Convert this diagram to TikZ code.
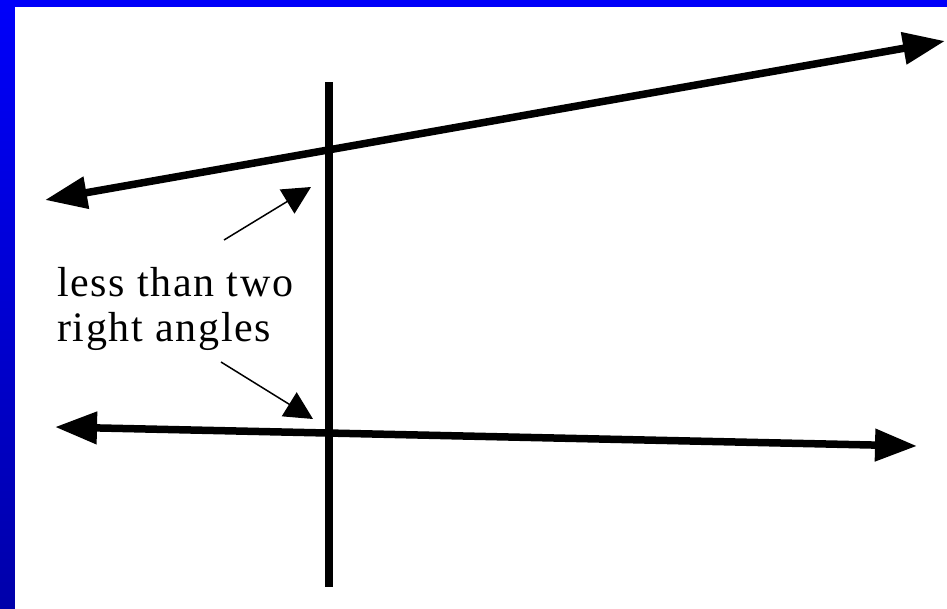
\documentclass[tikz,border=0pt]{standalone}
\usepackage{fontspec}
\setmainfont{Liberation Serif}
\usetikzlibrary{arrows.meta}
\begin{document}
\begin{tikzpicture}[x=1pt,y=-1pt,
  bigline/.style={line width=7.5pt,{Triangle[length=42pt,width=31pt]}-{Triangle[length=42pt,width=31pt]}},
  pointer/.style={line width=1.5pt,-{Triangle[length=28pt,width=28pt]}},
  label/.style={font=\fontsize{42}{45}\selectfont\addfontfeature{LetterSpace=4},align=left,inner sep=0pt,anchor=north west}]
\useasboundingbox (0,0) rectangle (947,608);
\shade[top color={rgb,255:red,0;green,0;blue,250},bottom color={rgb,255:red,0;green,0;blue,170}] (0,0) rectangle (947,608);
\fill[white] (15,7) rectangle (952,615);
% coordinates
\coordinate (vt) at (329,82);
\coordinate (vb) at (329,587);
\coordinate (tl) at (45,200);
\coordinate (tr) at (945,41);
\coordinate (bl) at (55,427);
\coordinate (br) at (917,446);
\coordinate (p1s) at (224,240);
\coordinate (p1e) at (311,187);
\coordinate (p2s) at (221,362);
\coordinate (p2e) at (313,419);
\draw[line width=7.5pt] (vt) -- (vb);
\draw[bigline] (tl) -- (tr);
\draw[bigline] (bl) -- (br);
\draw[pointer] (p1s) -- (p1e);
\draw[pointer] (p2s) -- (p2e);
\node[label] (txt) at (57,267) {less than two\\right angles};
\end{tikzpicture}
\end{document}
